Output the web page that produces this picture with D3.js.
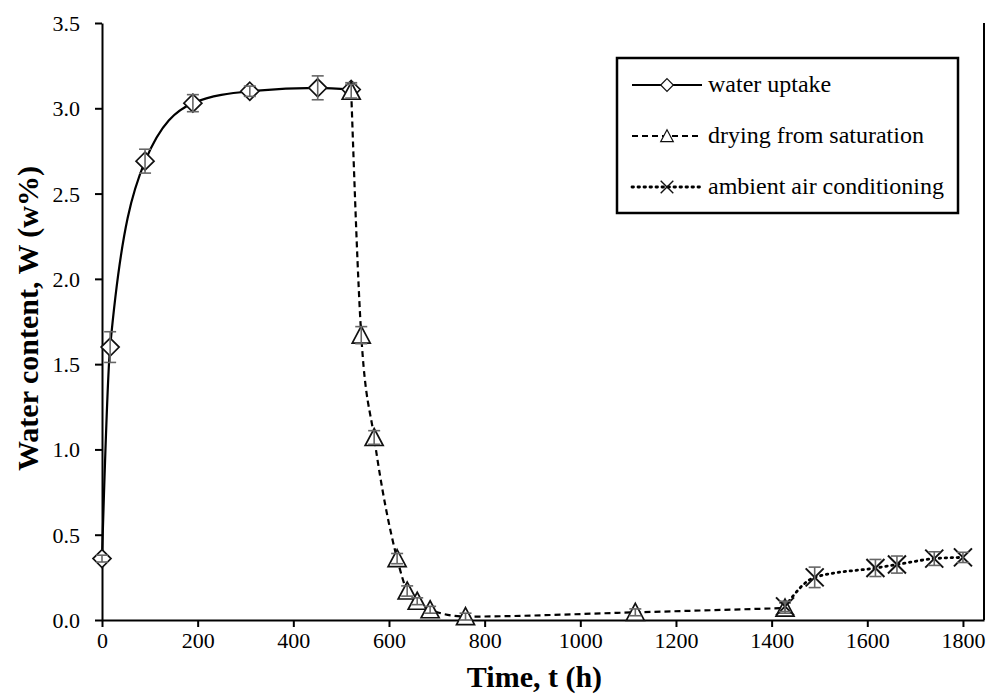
<!DOCTYPE html>
<html>
<head>
<meta charset="utf-8">
<script src="https://cdn.jsdelivr.net/npm/d3@7"></script>
<style>
  body { margin: 0; background: #fff; }
</style>
</head>
<body>
<div id="chart-area"></div>
<script>
const FONT = "'Liberation Serif', 'Times New Roman', serif";

const xTicks = [0, 200, 400, 600, 800, 1000, 1200, 1400, 1600, 1800];
const yTicks = [0, 0.5, 1, 1.5, 2, 2.5, 3, 3.5];

const uptakeT = [0, 17, 90, 190, 309, 451, 521];
const uptakeW = [0.36, 1.6, 2.69, 3.03, 3.1, 3.12, 3.11];
const uptakeErr = [0.02, 0.09, 0.07, 0.05, 0.03, 0.07, 0.04];

const dryingT = [521, 542, 569, 617, 638, 659, 686, 760, 1115, 1428];
const dryingW = [3.1, 1.67, 1.07, 0.36, 0.17, 0.11, 0.06, 0.02, 0.045, 0.07];
const dryingErr = [0.04, 0.05, 0.04, 0.03, 0.03, 0.02, 0.02, 0.02, 0.02, 0.03];

const ambientT = [1428, 1490, 1617, 1662, 1740, 1800];
const ambientW = [0.08, 0.25, 0.305, 0.325, 0.36, 0.367];
const ambientErr = [0.03, 0.06, 0.05, 0.05, 0.04, 0.03];

const seriesNames = ["water uptake", "drying from saturation", "ambient air conditioning"];

const toPoints = (ts, ws, es) => ts.map((t, i) => ({ t, w: ws[i], e: es[i] }));

const drawChart = () => {
  const chartSize = { width: 990, height: 695 };
  const margin = { left: 102, right: 6, top: 23, bottom: 75 };
  const width = chartSize.width - (margin.left + margin.right);
  const height = chartSize.height - (margin.top + margin.bottom);

  const x = d3.scaleLinear().domain([0, 1844]).range([0, width]);
  const y = d3.scaleLinear().domain([0, 3.5]).range([height, 0]);

  const svg = d3
    .select("#chart-area")
    .append("svg")
    .attr("width", chartSize.width)
    .attr("height", chartSize.height);

  const g = svg
    .append("g")
    .attr("transform", `translate(${margin.left}, ${margin.top})`);

  // right border of the plot area
  g.append("line")
    .attr("x1", width)
    .attr("x2", width)
    .attr("y1", 0)
    .attr("y2", height)
    .attr("stroke", "#000")
    .attr("stroke-width", 2);

  const xAxis = d3.axisBottom(x).tickValues(xTicks).tickSize(7).tickSizeOuter(0)
    .tickFormat(d3.format("d"));
  const yAxis = d3.axisLeft(y).tickValues(yTicks).tickSize(7).tickSizeOuter(0)
    .tickFormat(d3.format(".1f")).tickPadding(15);

  g.append("g")
    .attr("class", "x-axis")
    .attr("transform", `translate(0, ${height})`)
    .call(xAxis);

  g.append("g")
    .attr("class", "y-axis")
    .call(yAxis);

  g.selectAll(".domain, .tick line").attr("stroke", "#000").attr("stroke-width", 2);
  g.selectAll(".tick text")
    .attr("fill", "#000")
    .style("font-family", FONT)
    .style("font-size", "22px");
  g.selectAll(".x-axis .tick text").attr("y", 28).attr("dy", 0);
  g.selectAll(".y-axis .tick text").attr("dy", "0.34em");

  g.append("text")
    .attr("x", x(900) + 2)
    .attr("y", height + 67)
    .attr("text-anchor", "middle")
    .style("font-family", FONT)
    .style("font-weight", "bold")
    .style("font-size", "30px")
    .text("Time, t (h)");

  g.append("text")
    .attr("transform", `translate(${-64}, ${height / 2 - 3}) rotate(-90)`)
    .attr("text-anchor", "middle")
    .style("font-family", FONT)
    .style("font-weight", "bold")
    .style("font-size", "30px")
    .text("Water content, W (w%)");

  const series = [
    { pts: toPoints(uptakeT, uptakeW, uptakeErr), dash: null, marker: "diamond" },
    { pts: toPoints(dryingT, dryingW, dryingErr), dash: "6,4", marker: "triangle" },
    { pts: toPoints(ambientT, ambientW, ambientErr), dash: "1.5,4.5", marker: "cross" }
  ];

  const line = d3
    .line()
    .x(d => x(d.t))
    .y(d => y(d.w))
    .curve(d3.curveMonotoneX);

  const drawMarker = (sel, type) => {
    if (type === "diamond") {
      sel.append("path")
        .attr("d", "M0,-9L9,0L0,9L-9,0Z")
        .attr("fill", "#fff")
        .attr("stroke", "#111")
        .attr("stroke-width", 1.7);
    } else if (type === "triangle") {
      sel.append("path")
        .attr("d", "M0,-9L9,8L-9,8Z")
        .attr("fill", "#fff")
        .attr("stroke", "#111")
        .attr("stroke-width", 1.7);
    } else {
      sel.append("path")
        .attr("d", "M-9,-9L9,9M-9,9L9,-9")
        .attr("fill", "none")
        .attr("stroke", "#111")
        .attr("stroke-width", 2);
    }
  };

  series.forEach(s => {
    g.append("path")
      .datum(s.pts)
      .attr("fill", "none")
      .attr("stroke", "#000")
      .attr("stroke-width", s.marker === "cross" ? 2.8 : 2.2)
      .attr("stroke-linecap", s.marker === "cross" ? "round" : "butt")
      .attr("stroke-dasharray", s.dash)
      .attr("d", line);
  });

  series.forEach(s => {
    const pts = g.selectAll(null)
      .data(s.pts)
      .enter()
      .append("g")
      .attr("transform", d => `translate(${x(d.t)}, ${y(d.w)})`);

    drawMarker(pts, s.marker);

    const err = pts.append("g").attr("stroke", "#666").attr("stroke-width", 1.6);
    err.append("line")
      .attr("y1", d => y(d.w + d.e) - y(d.w))
      .attr("y2", d => y(d.w - d.e) - y(d.w));
    err.append("line")
      .attr("x1", -6).attr("x2", 6)
      .attr("y1", d => y(d.w + d.e) - y(d.w))
      .attr("y2", d => y(d.w + d.e) - y(d.w));
    err.append("line")
      .attr("x1", -6).attr("x2", 6)
      .attr("y1", d => y(d.w - d.e) - y(d.w))
      .attr("y2", d => y(d.w - d.e) - y(d.w));
  });

  // legend
  const legend = svg.append("g").attr("transform", "translate(617, 58)");
  legend.append("rect")
    .attr("width", 341)
    .attr("height", 155)
    .attr("fill", "#fff")
    .attr("stroke", "#000")
    .attr("stroke-width", 2.5);

  const rows = legend.selectAll(null)
    .data(series)
    .enter()
    .append("g")
    .attr("transform", (d, i) => `translate(0, ${27 + i * 51})`);

  rows.append("line")
    .attr("x1", 15).attr("x2", 85)
    .attr("stroke", "#000")
    .attr("stroke-width", d => d.marker === "cross" ? 2.8 : 2.2)
    .attr("stroke-linecap", d => d.marker === "cross" ? "round" : "butt")
    .attr("stroke-dasharray", d => d.dash);

  rows.each(function (d) {
    const m = d3.select(this).append("g").attr("transform", "translate(50, 0) scale(0.7)");
    drawMarker(m, d.marker);
  });

  rows.append("text")
    .attr("x", 91)
    .attr("dy", "0.3em")
    .style("font-family", FONT)
    .style("font-size", "24px")
    .text((d, i) => seriesNames[i]);
};

const main = () => {
  drawChart();
};

window.onload = main;
</script>
</body>
</html>
